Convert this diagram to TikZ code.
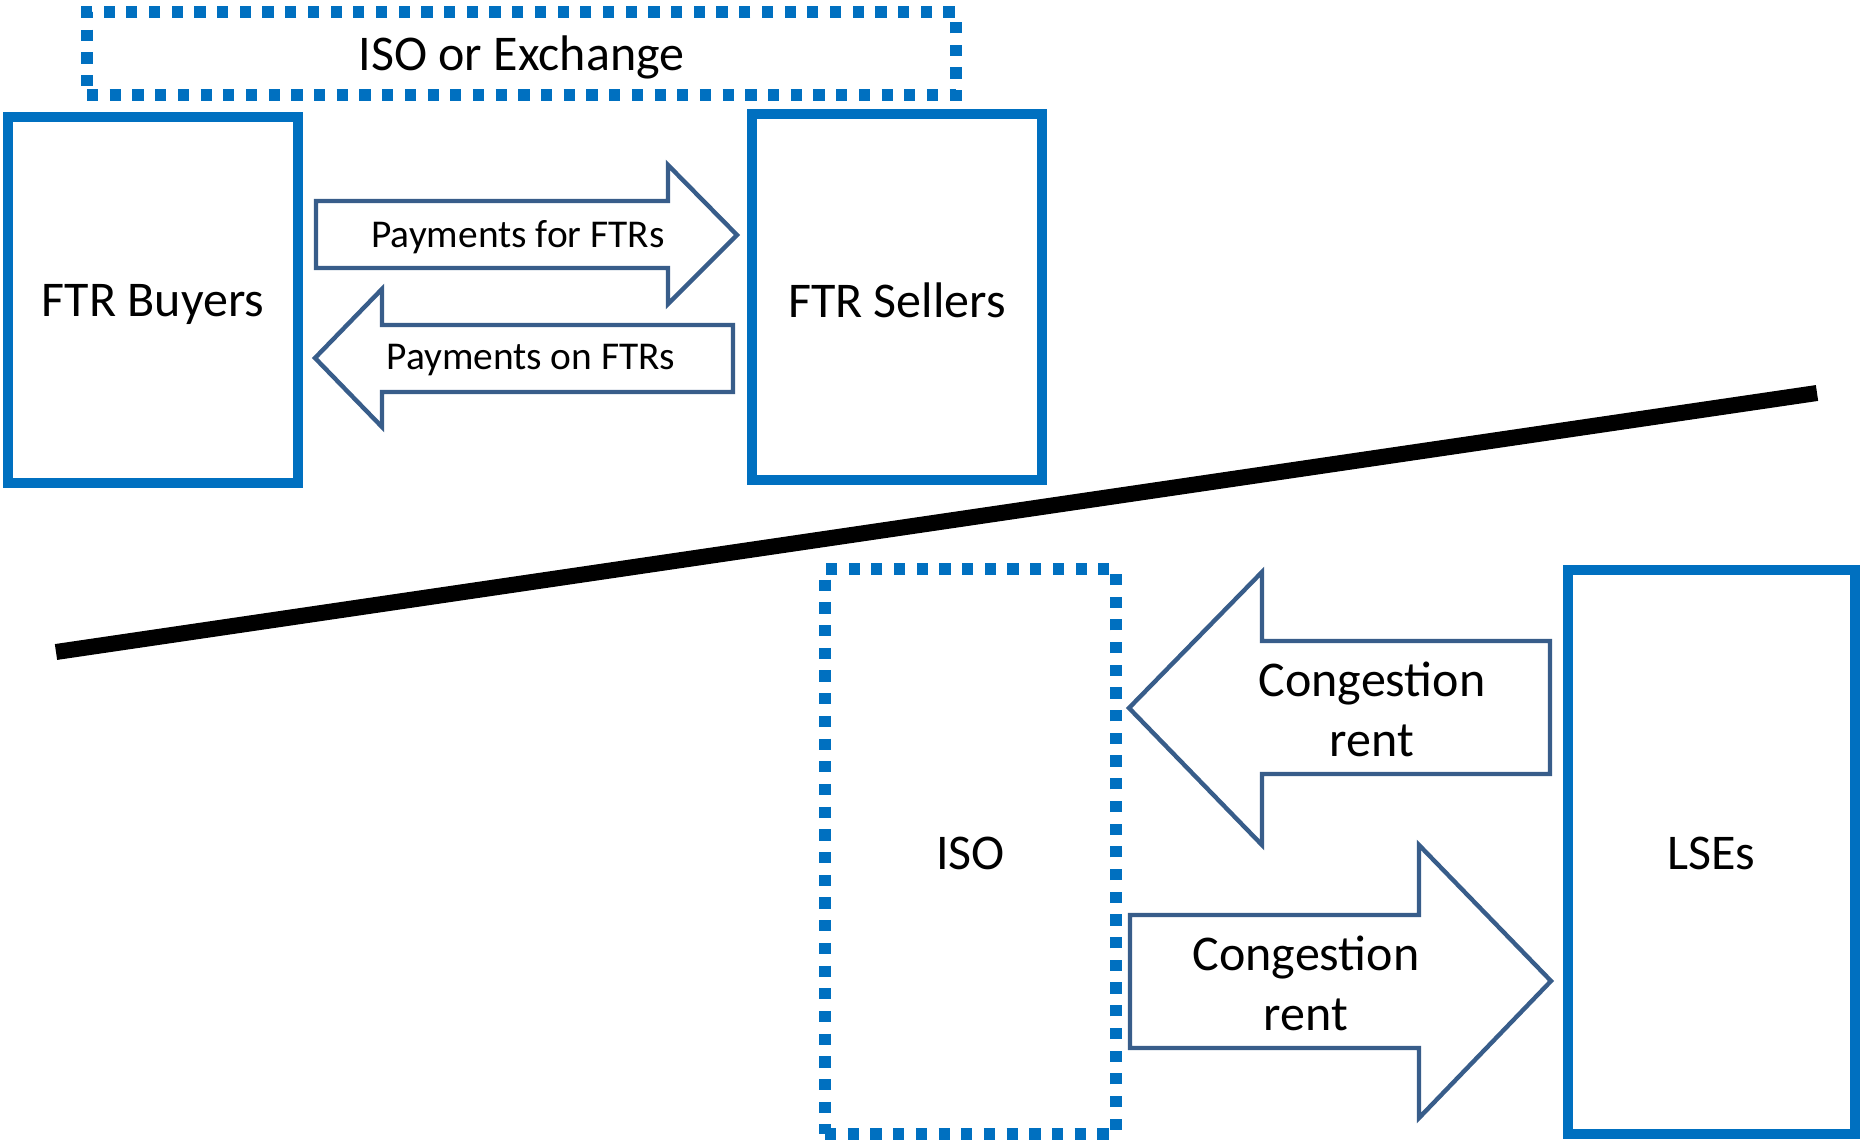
\documentclass[tikz,border=0pt]{standalone}
\usepackage{fontspec}
\setmainfont{Carlito}
\definecolor{boxblue}{HTML}{0070C0}
\definecolor{arrowblue}{HTML}{385D8A}
\begin{document}
\begin{tikzpicture}[x=0.5pt,y=-0.5pt,
  solidbox/.style={draw=boxblue, line width=5.2pt, inner sep=0pt, align=center, font=\fontsize{25}{30}\selectfont},
  dotbox/.style={draw=boxblue, line width=5.6pt, dash pattern=on 5.6pt off 5.75pt, inner sep=0pt, align=center, font=\fontsize{25}{30}\selectfont},
  blockarrow/.style={draw=arrowblue, line width=2.2pt, line join=miter, fill=white},
  biglabel/.style={font=\fontsize{25}{30}\selectfont, align=center, inner sep=0pt},
  smalllabel/.style={font=\fontsize{19.7}{24}\selectfont, inner sep=0pt},
  textshift/.style={text depth=0pt}]
\useasboundingbox (0,0) rectangle (1860,1143);

% boxes
\node[dotbox, minimum width=434.5pt, minimum height=41.5pt] (exch) at (521.5,53.5) {};
\node[biglabel] (exchtxt) at (521.5,57) {ISO or Exchange};
\node[solidbox, minimum width=145pt, minimum height=183pt] (buyers) at (153,300) {};
\node[biglabel] (buyerstxt) at (153,304) {FTR Buyers};
\node[solidbox, minimum width=145pt, minimum height=183pt] (sellers) at (897,297) {};
\node[biglabel] (sellerstxt) at (897,300) {FTR Sellers};
\node[dotbox, minimum width=145.5pt, minimum height=282.5pt] (iso) at (970.5,851.5) {};
\node[biglabel] (isotxt) at (970.5,853) {ISO};
\node[solidbox, minimum width=143.5pt, minimum height=282pt] (lses) at (1711.5,852) {};
\node[biglabel] (lsestxt) at (1711.5,853) {LSEs};

% divider line
\coordinate (divL) at (56,652);
\coordinate (divR) at (1817,393);
\draw[line width=8pt] (divL) -- (divR);

% block arrows
\draw[blockarrow] (316,201) -- (668,201) -- (668,165) -- (737,235) -- (668,304) -- (668,268) -- (316,268) -- cycle;
\node[smalllabel] (payfor) at (518,237) {Payments for FTRs};

\draw[blockarrow] (733,325) -- (382,325) -- (382,289) -- (315,358) -- (382,427) -- (382,392) -- (733,392) -- cycle;
\node[smalllabel] (payon) at (531,360) {Payments on FTRs};

\draw[blockarrow] (1550,641) -- (1262,641) -- (1262,572) -- (1129,708) -- (1262,845) -- (1262,774) -- (1550,774) -- cycle;
\node[biglabel] (congtop) at (1372,709) {Congestion\\rent};

\draw[blockarrow] (1130,915) -- (1419,915) -- (1419,845) -- (1551,981) -- (1419,1118) -- (1419,1048) -- (1130,1048) -- cycle;
\node[biglabel] (congbot) at (1306,983) {Congestion\\rent};
\end{tikzpicture}
\end{document}
